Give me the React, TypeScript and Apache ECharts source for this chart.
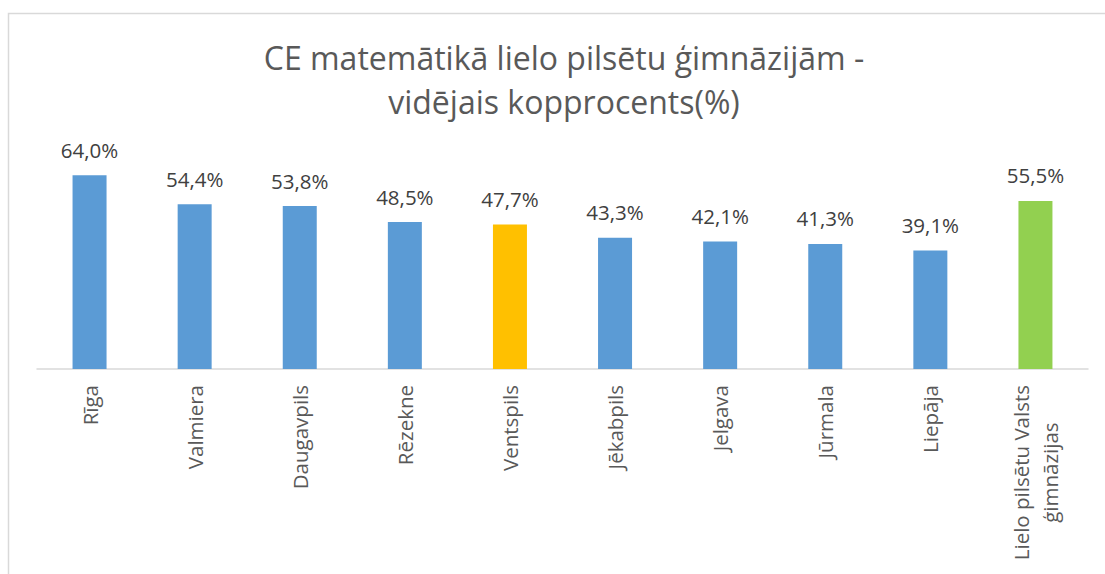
import React, { useEffect, useRef } from "react";
import * as echarts from "echarts";

const titleText = "CE matemātikā lielo pilsētu ģimnāzijām -\nvidējais kopprocents(%)";
const categories = [
  "Rīga",
  "Valmiera",
  "Daugavpils",
  "Rēzekne",
  "Ventspils",
  "Jēkabpils",
  "Jelgava",
  "Jūrmala",
  "Liepāja",
  "Lielo pilsētu Valsts\nģimnāzijas",
];
const values = [64.0, 54.4, 53.8, 48.5, 47.7, 43.3, 42.1, 41.3, 39.1, 55.5];
const barColors = [
  "#5B9BD5",
  "#5B9BD5",
  "#5B9BD5",
  "#5B9BD5",
  "#FFC000",
  "#5B9BD5",
  "#5B9BD5",
  "#5B9BD5",
  "#5B9BD5",
  "#92D050",
];

const FONT = "'Open Sans', 'Noto Sans', sans-serif";

export default function App() {
  const ref = useRef<HTMLDivElement>(null);
  useEffect(() => {
    if (!ref.current) return;
    const chart = echarts.init(ref.current, undefined, { renderer: "svg" });
    chart.setOption({
      animation: false,
      backgroundColor: "#ffffff",
      textStyle: { fontFamily: FONT },
      title: {
        text: titleText,
        left: 564,
        top: 35,
        padding: 0,
        textAlign: "center",
        textStyle: {
          fontFamily: FONT,
          fontSize: 32,
          lineHeight: 44,
          fontWeight: "normal",
          color: "#595959",
        },
      },
      graphic: [
        {
          type: "rect",
          shape: { x: 8.5, y: 13.5, width: 1200, height: 700 },
          style: { fill: "none", stroke: "#d9d9d9", lineWidth: 1.5 },
          silent: true,
        },
      ],
      grid: { left: 37, right: 17, top: 157, bottom: 205, containLabel: false },
      xAxis: {
        type: "category",
        data: categories,
        axisLine: { show: true, lineStyle: { color: "#d9d9d9", width: 1.5 } },
        axisTick: { show: false },
        axisLabel: {
          rotate: 90,
          margin: 16,
          interval: 0,
          fontFamily: FONT,
          fontSize: 20.5,
          color: "#595959",
          lineHeight: 29,
          formatter: (v: string) =>
            v
              .split("\n")
              .map((s) => "{c|" + s + "}")
              .join("\n"),
          rich: {
            c: { align: "center", fontFamily: FONT, fontSize: 20.5, color: "#595959", lineHeight: 29 },
          },
        },
      },
      yAxis: {
        type: "value",
        min: 0,
        max: 70,
        show: false,
        splitLine: { show: false },
      },
      series: [
        {
          type: "bar",
          barWidth: 34,
          data: values.map((v, i) => ({ value: v, itemStyle: { color: barColors[i] } })),
          label: {
            show: true,
            position: "top",
            distance: 15,
            fontFamily: FONT,
            fontSize: 20.5,
            color: "#404040",
            formatter: (p: any) => p.value.toFixed(1).replace(".", ",") + "%",
          },
        },
      ],
    });
    return () => chart.dispose();
  }, []);
  return (
    <div
      ref={ref}
      style={{ position: "fixed", left: 0, top: 0, width: 1105, height: 574 }}
    />
  );
}
